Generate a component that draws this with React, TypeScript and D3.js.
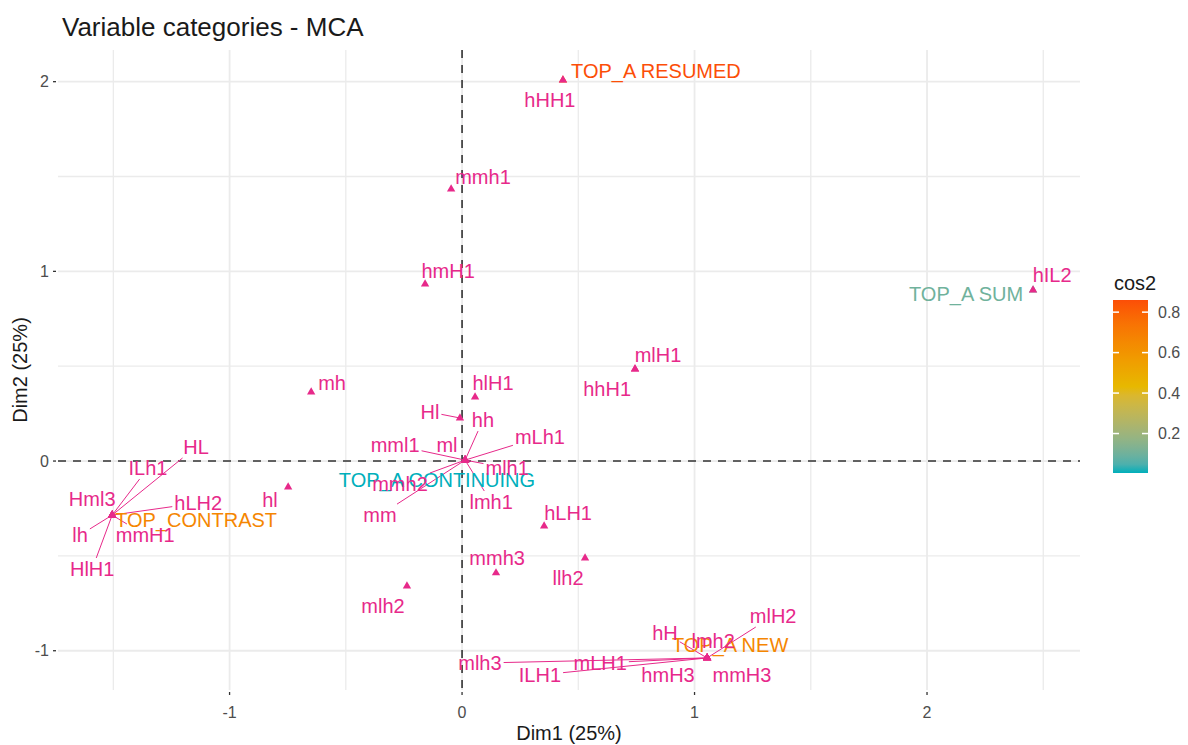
import React, { useRef, useEffect } from 'react';
import * as d3 from 'd3';

const W = 1188;
const H = 745;
const FONT = '"Liberation Sans", Arial, sans-serif';
const PINK = '#E7298A';

// Active categories, coloured by cos2
const activeNames = ['TOP_A RESUMED', 'TOP_A SUM', 'TOP_A CONTINUING', 'TOP_CONTRAST', 'TOP_A NEW'];
const activeDim1 = [0.434, 2.456, 0.013, -1.505, 1.054];
const activeDim2 = [2.008, 0.901, 0.005, -0.285, -1.038];
const activeCos2 = [0.86, 0.1, 0.005, 0.66, 0.66];
// where the repelled labels ended up (data units)
const activeLabelDim1 = [0.834, 2.168, -0.108, -1.144, 1.153];
const activeLabelDim2 = [2.056, 0.88, -0.1, -0.311, -0.97];

// Supplementary categories (pink)
const supNames = [
  'hHH1', 'mmh1', 'hmH1', 'hIL2', 'mlH1', 'hhH1', 'mh', 'hlH1', 'Hl',
  'hh', 'mLh1', 'mml1', 'ml', 'mlh1', 'mmh2', 'lmh1', 'mm',
  'HL', 'ILh1', 'Hml3', 'hLH2', 'lh', 'mmH1', 'HlH1',
  'hl', 'hLH1', 'llh2', 'mmh3', 'mlh2',
  'mlh3', 'ILH1', 'mLH1', 'hmH3', 'hH', 'lmh2', 'mlH2', 'mmH3',
];
const supDim1 = [
  0.434, -0.047, -0.159, 2.456, 0.744, 0.744, -0.649, 0.056, -0.009,
  0.013, 0.013, 0.013, 0.013, 0.013, 0.013, 0.013, 0.013,
  -1.505, -1.505, -1.505, -1.505, -1.505, -1.505, -1.505,
  -0.748, 0.353, 0.529, 0.146, -0.237,
  1.054, 1.054, 1.054, 1.054, 1.054, 1.054, 1.054, 1.054,
];
const supDim2 = [
  2.008, 1.434, 0.933, 0.901, 0.485, 0.485, 0.364, 0.337, 0.227,
  0.005, 0.005, 0.005, 0.005, 0.005, 0.005, 0.005, 0.005,
  -0.285, -0.285, -0.285, -0.285, -0.285, -0.285, -0.285,
  -0.137, -0.343, -0.511, -0.59, -0.659,
  -1.038, -1.038, -1.038, -1.038, -1.038, -1.038, -1.038, -1.038,
];
const supLabelDim1 = [
  0.378, 0.09, -0.06, 2.538, 0.843, 0.624, -0.559, 0.133, -0.138,
  0.09, 0.335, -0.288, -0.065, 0.194, -0.267, 0.125, -0.353,
  -1.144, -1.351, -1.591, -1.135, -1.643, -1.363, -1.591,
  -0.826, 0.456, 0.456, 0.151, -0.34,
  0.077, 0.335, 0.594, 0.886, 0.873, 1.08, 1.338, 1.204,
];
const supLabelDim2 = [
  1.903, 1.497, 1.002, 0.98, 0.559, 0.38, 0.411, 0.411, 0.258,
  0.216, 0.127, 0.084, 0.084, -0.037, -0.121, -0.216, -0.285,
  0.074, -0.037, -0.2, -0.221, -0.39, -0.39, -0.569,
  -0.206, -0.274, -0.617, -0.511, -0.764,
  -1.065, -1.128, -1.065, -1.128, -0.907, -0.949, -0.817, -1.128,
];

const xTicks = [-1, 0, 1, 2];
const yTicks = [-1, 0, 1, 2];
const xMinor = [-1.5, -0.5, 0.5, 1.5, 2.5];
const yMinor = [-0.5, 0.5, 1.5];
const legendTicks = [0.2, 0.4, 0.6, 0.8];
const gradientCols = ['#00AFBB', '#E7B800', '#FC4E07'];

const App: React.FC = () => {
  const svgRef = useRef<SVGSVGElement>(null);

  useEffect(() => {
    if (!svgRef.current) return;
    document.body.style.margin = '0';
    const svg = d3.select(svgRef.current);
    svg.selectAll('*').remove();

    const margin = { top: 50, right: 108, bottom: 55, left: 58 };
    const x = d3.scaleLinear().domain([-1.738, 2.658]).range([margin.left, W - margin.right]);
    const y = d3.scaleLinear().domain([-1.207, 2.167]).range([H - margin.bottom, margin.top]);

    const cMin = d3.min(activeCos2) as number;
    const cMax = d3.max(activeCos2) as number;
    const color = d3.scaleLinear<string>()
      .domain([cMin, (cMin + cMax) / 2, cMax])
      .range(gradientCols)
      .interpolate(d3.interpolateLab);

    // grid
    const grid = svg.append('g');
    grid.selectAll('line.xmin').data(xMinor).enter().append('line')
      .attr('x1', d => x(d)).attr('x2', d => x(d))
      .attr('y1', margin.top).attr('y2', H - margin.bottom)
      .attr('stroke', '#EBEBEB').attr('stroke-width', 1.3);
    grid.selectAll('line.ymin').data(yMinor).enter().append('line')
      .attr('x1', margin.left).attr('x2', W - margin.right)
      .attr('y1', d => y(d)).attr('y2', d => y(d))
      .attr('stroke', '#EBEBEB').attr('stroke-width', 1.3);
    grid.selectAll('line.xmaj').data(xTicks).enter().append('line')
      .attr('x1', d => x(d)).attr('x2', d => x(d))
      .attr('y1', margin.top).attr('y2', H - margin.bottom)
      .attr('stroke', '#EBEBEB').attr('stroke-width', 1.8);
    grid.selectAll('line.ymaj').data(yTicks).enter().append('line')
      .attr('x1', margin.left).attr('x2', W - margin.right)
      .attr('y1', d => y(d)).attr('y2', d => y(d))
      .attr('stroke', '#EBEBEB').attr('stroke-width', 1.8);

    // dashed zero lines
    svg.append('line')
      .attr('x1', x(0)).attr('x2', x(0)).attr('y1', margin.top).attr('y2', H - margin.bottom)
      .attr('stroke', '#333').attr('stroke-width', 1.6).attr('stroke-dasharray', '8,7');
    svg.append('line')
      .attr('x1', margin.left).attr('x2', W - margin.right).attr('y1', y(0)).attr('y2', y(0))
      .attr('stroke', '#333').attr('stroke-width', 1.6).attr('stroke-dasharray', '8,7');

    // axes ticks and labels
    const axes = svg.append('g').attr('font-family', FONT);
    axes.selectAll('line.xt').data(xTicks).enter().append('line')
      .attr('x1', d => x(d)).attr('x2', d => x(d))
      .attr('y1', H - margin.bottom + 2).attr('y2', H - margin.bottom + 5)
      .attr('stroke', '#333').attr('stroke-width', 1.3);
    axes.selectAll('text.xt').data(xTicks).enter().append('text')
      .attr('x', d => x(d)).attr('y', 718)
      .attr('text-anchor', 'middle').attr('font-size', 16).attr('fill', '#4D4D4D')
      .text(d => d.toString());
    axes.selectAll('line.yt').data(yTicks).enter().append('line')
      .attr('x1', margin.left - 5).attr('x2', margin.left - 2)
      .attr('y1', d => y(d)).attr('y2', d => y(d))
      .attr('stroke', '#333').attr('stroke-width', 1.3);
    axes.selectAll('text.yt').data(yTicks).enter().append('text')
      .attr('x', margin.left - 9).attr('y', d => y(d))
      .attr('dy', '0.35em')
      .attr('text-anchor', 'end').attr('font-size', 16).attr('fill', '#4D4D4D')
      .text(d => d.toString());

    axes.append('text')
      .attr('x', (margin.left + W - margin.right) / 2).attr('y', 740)
      .attr('text-anchor', 'middle').attr('font-size', 20).attr('fill', '#1a1a1a')
      .text('Dim1 (25%)');
    axes.append('text')
      .attr('transform', `translate(27, ${(margin.top + H - margin.bottom) / 2}) rotate(-90)`)
      .attr('text-anchor', 'middle').attr('font-size', 20).attr('fill', '#1a1a1a')
      .text('Dim2 (25%)');
    axes.append('text')
      .attr('x', 62).attr('y', 36)
      .attr('font-size', 26).attr('fill', '#1a1a1a')
      .text('Variable categories - MCA');

    // labels data
    type Lab = { name: string; px: number; py: number; lx: number; ly: number; col: string };
    const labs: Lab[] = [];
    activeNames.forEach((n, i) => labs.push({
      name: n, px: x(activeDim1[i]), py: y(activeDim2[i]),
      lx: x(activeLabelDim1[i]), ly: y(activeLabelDim2[i]), col: color(activeCos2[i]),
    }));
    supNames.forEach((n, i) => labs.push({
      name: n, px: x(supDim1[i]), py: y(supDim2[i]),
      lx: x(supLabelDim1[i]), ly: y(supLabelDim2[i]), col: PINK,
    }));

    const segG = svg.append('g');
    const ptG = svg.append('g');
    const txtG = svg.append('g').attr('font-family', FONT);

    const tri = d3.symbol().type(d3.symbolTriangle).size(30);

    // active points then sup points on top
    ptG.selectAll('path.act').data(activeNames).enter().append('path')
      .attr('d', tri as any)
      .attr('transform', (d, i) => `translate(${x(activeDim1[i])},${y(activeDim2[i])})`)
      .attr('fill', (d, i) => color(activeCos2[i]));
    ptG.selectAll('path.sup').data(supNames).enter().append('path')
      .attr('d', tri as any)
      .attr('transform', (d, i) => `translate(${x(supDim1[i])},${y(supDim2[i])})`)
      .attr('fill', PINK);

    // text, then measure to build the segments
    labs.forEach(l => {
      const t = txtG.append('text')
        .attr('x', l.lx).attr('y', l.ly)
        .attr('dy', '0.35em')
        .attr('text-anchor', 'middle')
        .attr('font-size', 20)
        .attr('fill', l.col)
        .text(l.name);
      const node = t.node() as SVGTextElement;
      const bb = node.getBBox();
      const pad = 2;
      const x0 = bb.x - pad, x1 = bb.x + bb.width + pad;
      const y0 = l.ly - 9 - pad, y1 = l.ly + 9 + pad;
      const dx = l.lx - l.px, dy = l.ly - l.py;
      if (l.px >= x0 && l.px <= x1 && l.py >= y0 && l.py <= y1) return;
      // clip the line from point to label centre at the box
      let tMin = 1;
      if (dx !== 0) {
        [x0, x1].forEach(bx => {
          const tt = (bx - l.px) / dx;
          const yy = l.py + tt * dy;
          if (tt > 0 && tt < tMin && yy >= y0 && yy <= y1) tMin = tt;
        });
      }
      if (dy !== 0) {
        [y0, y1].forEach(by => {
          const tt = (by - l.py) / dy;
          const xx = l.px + tt * dx;
          if (tt > 0 && tt < tMin && xx >= x0 && xx <= x1) tMin = tt;
        });
      }
      const ex = l.px + tMin * dx, ey = l.py + tMin * dy;
      if (Math.hypot(ex - l.px, ey - l.py) < 17) return;
      segG.append('line')
        .attr('x1', l.px).attr('y1', l.py).attr('x2', ex).attr('y2', ey)
        .attr('stroke', l.col).attr('stroke-width', 1);
    });

    // legend
    const lg = svg.append('g').attr('font-family', FONT);
    const barX = 1113, barW = 35, barTop = 300, barBot = 473;
    const ly = d3.scaleLinear().domain([cMin, cMax]).range([barBot, barTop]);
    const defs = svg.append('defs');
    const grad = defs.append('linearGradient').attr('id', 'cosgrad')
      .attr('x1', 0).attr('x2', 0).attr('y1', 1).attr('y2', 0);
    d3.range(0, 1.0001, 0.05).forEach(f => {
      grad.append('stop').attr('offset', f).attr('stop-color', color(cMin + f * (cMax - cMin)));
    });
    lg.append('text').attr('x', barX + 1).attr('y', 290)
      .attr('font-size', 20).attr('fill', '#1a1a1a').text('cos2');
    lg.append('rect').attr('x', barX).attr('y', barTop).attr('width', barW).attr('height', barBot - barTop)
      .attr('fill', 'url(#cosgrad)');
    legendTicks.forEach(v => {
      lg.append('line').attr('x1', barX).attr('x2', barX + 6).attr('y1', ly(v)).attr('y2', ly(v))
        .attr('stroke', 'white').attr('stroke-width', 1.5);
      lg.append('line').attr('x1', barX + barW - 6).attr('x2', barX + barW).attr('y1', ly(v)).attr('y2', ly(v))
        .attr('stroke', 'white').attr('stroke-width', 1.5);
      lg.append('text').attr('x', barX + barW + 10).attr('y', ly(v)).attr('dy', '0.35em')
        .attr('font-size', 16).attr('fill', '#4D4D4D').text(v.toString());
    });
  }, []);

  return (
    <div style={{ width: W, height: H, background: 'white' }}>
      <svg ref={svgRef} width={W} height={H} style={{ display: 'block' }} />
    </div>
  );
};

export default App;
